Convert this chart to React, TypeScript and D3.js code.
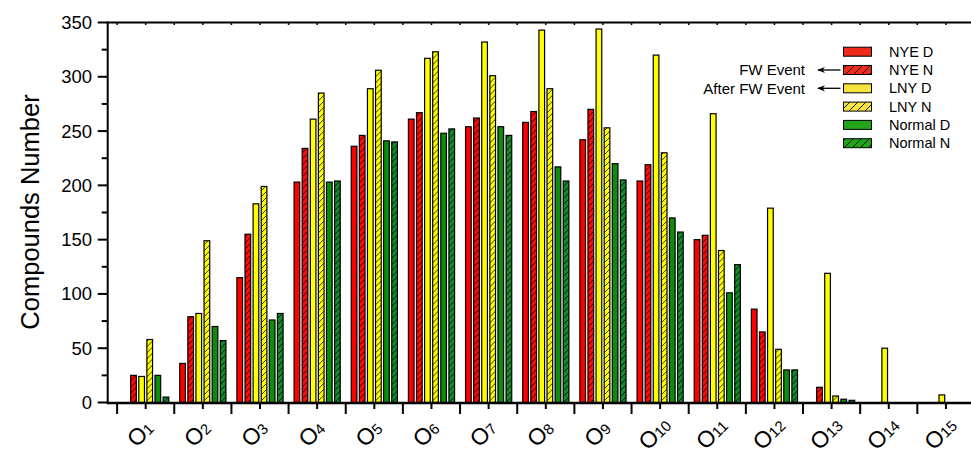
import React from "react";
import * as d3 from "d3";

const categories = ["1","2","3","4","5","6","7","8","9","10","11","12","13","14","15"];
const seriesNames = ["NYE D","NYE N","LNY D","LNY N","Normal D","Normal N"];
const nyeD =    [0, 36, 115, 203, 236, 261, 254, 258, 242, 204, 150, 86, 0, 0, 0];
const nyeN =    [25, 79, 155, 234, 246, 267, 262, 268, 270, 219, 154, 65, 14, 0, 0];
const lnyD =    [24, 82, 183, 261, 289, 317, 332, 343, 344, 320, 266, 179, 119, 50, 7];
const lnyN =    [58, 149, 199, 285, 306, 323, 301, 289, 253, 230, 140, 49, 6, 0, 0];
const normalD = [25, 70, 76, 203, 241, 248, 254, 217, 220, 170, 101, 30, 3, 0, 0];
const normalN = [5, 57, 82, 204, 240, 252, 246, 204, 205, 157, 127, 30, 2, 0, 0];
const yTicks = [0, 50, 100, 150, 200, 250, 300, 350];

const seriesValues = [nyeD, nyeN, lnyD, lnyN, normalD, normalN];
const barFill = ["#FF0000", "#FF0A0A", "#FFFF00", "#FFFF00", "#0E8C0E", "#138A2A"];
const legendFill = ["#EE2B1B", "#EE2B1B", "#F7E33C", "#F7E33C", "#22A31C", "#22A31C"];
const hatched = [false, true, false, true, false, true];

export default function App() {
  const W = 971, H = 450;
  const x = d3.scaleBand<string>().domain(categories).range([117.1, 974.5]).padding(0);
  const sub = d3.scaleBand<number>().domain(d3.range(6)).range([-24.3, 24.3]).paddingInner(0.3).paddingOuter(0.15);
  const y = d3.scaleLinear().domain([0, 350]).range([402.5, 22.5]);
  const axisLeft = 107.7;
  const minorY = d3.range(25, 350, 50);

  return (
    <svg width={W} height={H} style={{ position: "absolute", left: 0, top: 0, background: "#fff" }}
      fontFamily="Arial, 'Liberation Sans', Helvetica, sans-serif">
      <defs>
        {seriesNames.map((s, i) => (
          <pattern key={i} id={`hatch${i}`} patternUnits="userSpaceOnUse" width={6} height={6}>
            <rect width={6} height={6} fill={barFill[i]} />
            <path d="M-1,7 L7,-1" stroke="#000" strokeWidth={0.8} />
          </pattern>
        ))}
        {seriesNames.map((s, i) => (
          <pattern key={"l" + i} id={`lhatch${i}`} patternUnits="userSpaceOnUse" width={8} height={8}>
            <rect width={8} height={8} fill={legendFill[i]} />
            <path d="M-1,9 L9,-1" stroke="#000" strokeWidth={0.9} />
          </pattern>
        ))}
        <marker id="arrow" viewBox="0 0 10 10" refX={9} refY={5} markerWidth={6} markerHeight={6} orient="auto">
          <path d="M10,5 L0,1 L3,5 L0,9 Z" fill="#000" />
        </marker>
      </defs>

      {/* bars */}
      {categories.map((c, ci) => (
        <g key={c} transform={`translate(${x(c)! + x.bandwidth() / 2},0)`}>
          {seriesValues.map((vals, si) => {
            const v = vals[ci];
            if (!v) return null;
            return (
              <rect key={si} x={sub(si)!} width={sub.bandwidth()} y={y(v)} height={y(0) - y(v)}
                fill={hatched[si] ? `url(#hatch${si})` : barFill[si]} stroke="#000" strokeWidth={1.2} />
            );
          })}
        </g>
      ))}

      {/* axes */}
      <line x1={axisLeft} x2={W} y1={22.5} y2={22.5} stroke="#000" strokeWidth={2} />
      <line x1={axisLeft} x2={axisLeft} y1={21.5} y2={403.5} stroke="#000" strokeWidth={2} />
      <line x1={axisLeft - 1} x2={W} y1={403} y2={403} stroke="#000" strokeWidth={2.6} />
      {yTicks.map(t => (
        <g key={t}>
          <line x1={axisLeft - 10} x2={axisLeft} y1={y(t)} y2={y(t)} stroke="#000" strokeWidth={2} />
          <text x={92} y={y(t)} dy="0.35em" textAnchor="end" fontSize={18.5}>{t}</text>
        </g>
      ))}
      {minorY.map(t => (
        <line key={t} x1={axisLeft - 6} x2={axisLeft} y1={y(t)} y2={y(t)} stroke="#000" strokeWidth={2} />
      ))}
      {categories.map(c => {
        const left = x(c)!;
        const mid = left + x.bandwidth() / 2;
        return (
          <g key={c}>
            <line x1={left} x2={left} y1={403} y2={414} stroke="#000" strokeWidth={2} />
            <line x1={mid} x2={mid} y1={403} y2={409} stroke="#000" strokeWidth={2} />
            <line x1={left} x2={left} y1={22.5} y2={25} stroke="#000" strokeWidth={1.5} />
            <line x1={mid} x2={mid} y1={22.5} y2={25} stroke="#000" strokeWidth={1.5} />
            <text transform={`translate(${mid},${439}) rotate(-45)`} textAnchor="middle" fontSize={23}>
              O<tspan fontSize={15}>{c}</tspan>
            </text>
          </g>
        );
      })}

      <text transform={`translate(${39},${212}) rotate(-90)`} textAnchor="middle" fontSize={25.5}>Compounds Number</text>

      {/* legend */}
      {seriesNames.map((s, i) => {
        const cy = 51.7 + i * 18.3;
        return (
          <g key={s}>
            <rect x={843.5} y={cy - 4.5} width={28} height={9}
              fill={hatched[i] ? `url(#lhatch${i})` : legendFill[i]} stroke="#000" strokeWidth={1} />
            <text x={889} y={cy} dy="0.35em" fontSize={14.5}>{s}</text>
          </g>
        );
      })}
      <text x={805} y={70} dy="0.35em" textAnchor="end" fontSize={15}>FW Event</text>
      <text x={805} y={88.3} dy="0.35em" textAnchor="end" fontSize={15}>After FW Event</text>
      <line x1={840.5} x2={818} y1={70} y2={70} stroke="#000" strokeWidth={1.3} markerEnd="url(#arrow)" />
      <line x1={840.5} x2={818} y1={88.3} y2={88.3} stroke="#000" strokeWidth={1.3} markerEnd="url(#arrow)" />
    </svg>
  );
}
